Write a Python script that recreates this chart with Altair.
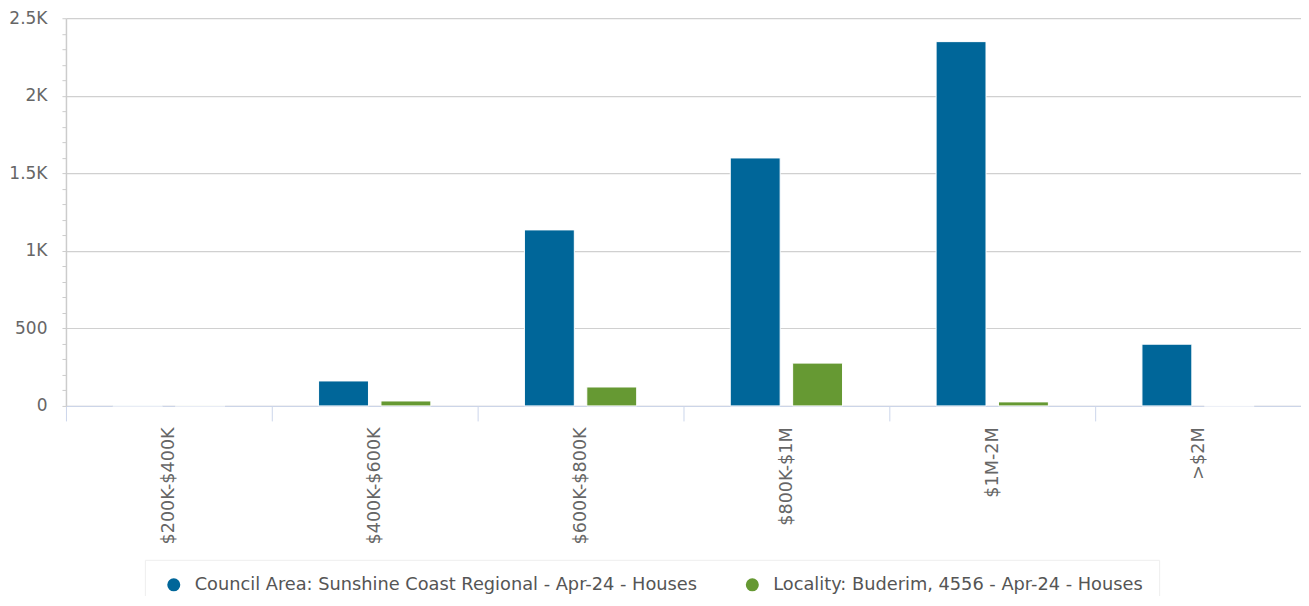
import altair as alt
import pandas as pd

categories = ["$200K-$400K", "$400K-$600K", "$600K-$800K", "$800K-$1M", "$1M-2M", ">$2M"]
series_names = [
    "Council Area: Sunshine Coast Regional - Apr-24 - Houses",
    "Locality: Buderim, 4556 - Apr-24 - Houses",
]
council_values = [1, 161, 1135, 1599, 2349, 398]
locality_values = [1, 32, 122, 276, 26, 0]
colors = ["#006699", "#669933"]
y_ticks = list(range(0, 2501, 100))

rows = []
for c, v in zip(categories, council_values):
    rows.append({"category": c, "series": series_names[0], "value": v})
for c, v in zip(categories, locality_values):
    rows.append({"category": c, "series": series_names[1], "value": v})
df = pd.DataFrame(rows)

FONT = "DejaVu Sans"

chart = alt.Chart(df).mark_bar(stroke="white", strokeWidth=1).encode(
    x=alt.X(
        "category:N",
        sort=categories,
        title=None,
        scale=alt.Scale(paddingInner=0, paddingOuter=0),
        axis=alt.Axis(
            labelAngle=270,
            labelAlign="right",
            labelBaseline="middle",
            labelFont=FONT,
            labelFontSize=17.6,
            labelColor="#666666",
            labelPadding=6,
            tickBand="extent",
            tickSize=15,
            tickColor="#ccd6eb",
            domainColor="#ccd6eb",
            domainWidth=1,
            grid=False,
        ),
    ),
    xOffset=alt.XOffset(
        "series:N",
        sort=series_names,
        scale=alt.Scale(paddingInner=0.2, paddingOuter=0.75),
    ),
    y=alt.Y(
        "value:Q",
        title=None,
        scale=alt.Scale(domain=[0, 2500], nice=False),
        axis=alt.Axis(
            values=y_ticks,
            labelExpr="datum.value % 500 === 0 ? (datum.value >= 1000 ? format(datum.value/1000, '~g') + 'K' : format(datum.value, 'd')) : ''",
            labelFont=FONT,
            labelFontSize=17,
            labelColor="#666666",
            labelPadding=15,
            tickSize=4,
            tickColor="#cccccc",
            domainColor="#cccccc",
            domainWidth=1.5,
            gridColor="#d0d0d0",
            gridOpacity=alt.ExprRef("datum.value % 500 === 0 ? 1 : 0"),
            gridWidth=1.2,
        ),
    ),
    color=alt.Color(
        "series:N",
        sort=series_names,
        scale=alt.Scale(domain=series_names, range=colors),
        legend=alt.Legend(
            title=None,
            orient="none",
            direction="horizontal",
            legendX=79,
            legendY=542,
            symbolType="circle",
            symbolSize=170,
            symbolStrokeWidth=0,
            labelFont=FONT,
            labelFontSize=17.8,
            labelColor="#555555",
            labelLimit=800,
            columnPadding=42,
            padding=16,
            strokeColor="#eeeeee",
            fillColor="white",
            symbolOffset=4,
            labelOffset=12,
        ),
    ),
).properties(
    width=1236,
    height=388,
    autosize=alt.AutoSizeParams(type="none"),
    padding={"left": 58, "top": 10, "right": 0, "bottom": 190},
).configure_view(
    stroke=None
).configure_axis(
    labelFont=FONT
)

chart.save("out.html", embed_options={"renderer": "svg", "actions": False})
